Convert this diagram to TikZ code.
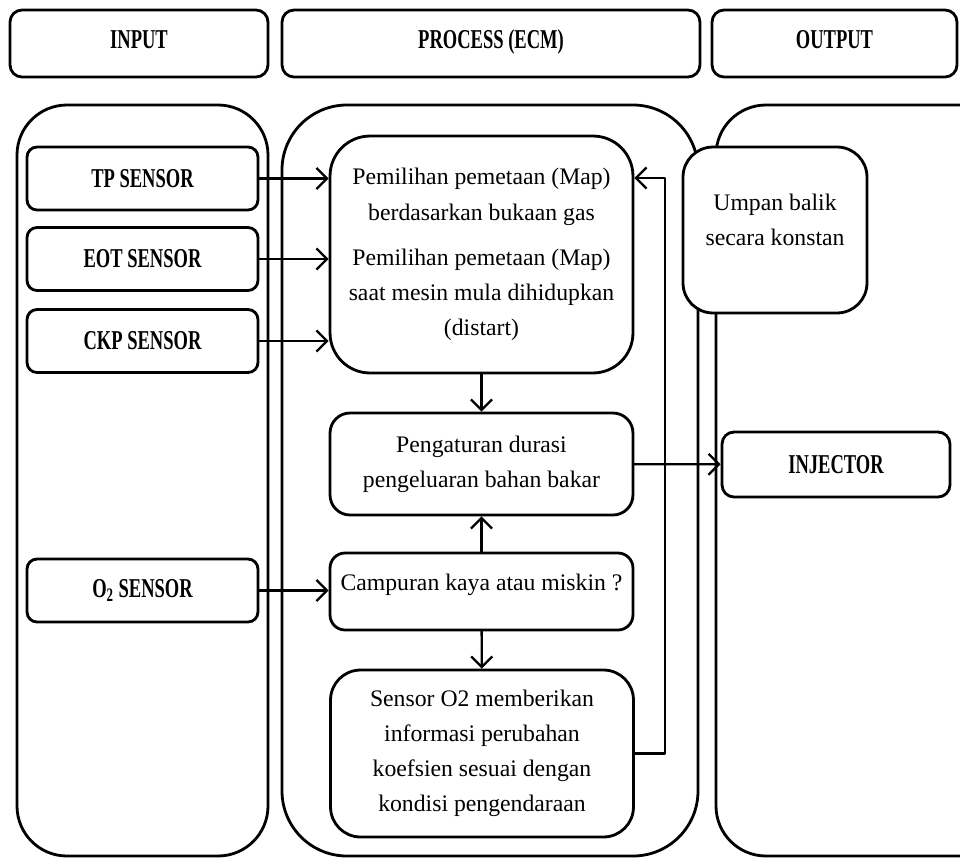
\documentclass[tikz,border=0pt]{standalone}
\usepackage{fontspec}
\setmainfont{Liberation Serif}
\newfontfamily\hdfont[FakeStretch=0.68]{Liberation Serif}
\usetikzlibrary{arrows.meta}
\begin{document}
\begin{tikzpicture}[line join=round, line cap=round, >={Straight Barb[length=6pt,width=12pt]}, x=0.02cm, y=-0.02cm]
	\tikzset{every node/.style={font=\fontsize{13.5}{20}\selectfont, align=center},
		hd/.style={draw, line width=1.6pt, rounded corners=0.24cm, minimum height=1.34cm, text height=0.75em, text depth=0.2em, font=\hdfont\bfseries\fontsize{15.5}{18}\selectfont},
		sbox/.style={draw, fill=white, line width=1.6pt, rounded corners=0.2cm, minimum width=4.62cm, minimum height=1.26cm, font=\hdfont\bfseries\fontsize{15.5}{18}\selectfont},
		pbox/.style={draw, fill=white, line width=1.6pt, minimum width=6.06cm},
		col/.style={line width=1.6pt},
		arr/.style={->, line width=1.3pt}}
	\useasboundingbox (0,0) rectangle (960,859);
	\clip (0,0) rectangle (960,859);
	\node[hd, minimum width=5.16cm] (inhead) at (139,43.5) {INPUT};
	\node[hd, minimum width=8.36cm] (prochead) at (491,43.5) {PROCESS (ECM)};
	\node[hd, minimum width=4.9cm] (outhead) at (834.5,43.5) {OUTPUT};
	\draw[col, rounded corners=1cm] (17,105) rectangle (268,856);
	\draw[col, rounded corners=1.3cm] (282,105) rectangle (698,856);
	\draw[col, rounded corners=1cm] (716,105) rectangle (1010,856);
	\foreach \n/\t/\y in {tp/TP SENSOR/178.5, eot/EOT SENSOR/259, ckp/CKP SENSOR/341, otwo/O\textsubscript{2} SENSOR/590.5}
	\node[sbox] (\n) at (142.5,\y) {\t};
	\node[pbox, rounded corners=0.8cm, minimum height=4.74cm] (map) at (481.5,254.5) {Pemilihan pemetaan (Map)\\berdasarkan bukaan gas\\[0.2cm]Pemilihan pemetaan (Map)\\saat mesin mula dihidupkan\\(distart)};
	\node[draw, fill=white, line width=1.6pt, rounded corners=0.6cm, minimum width=3.68cm, minimum height=3.32cm] (umpan) at (775,230) {};
	\node at ([yshift=0.21cm]umpan.center) {Umpan balik\\secara konstan};
	\node[pbox, rounded corners=0.4cm, minimum height=2.04cm] (peng) at (481.5,464) {Pengaturan durasi\\pengeluaran bahan bakar};
	\node[pbox, rounded corners=0.3cm, minimum height=1.54cm, text depth=10pt] (camp) at (481.5,591.5) {Campuran kaya atau miskin ?};
	\node[pbox, rounded corners=0.6cm, minimum height=3.34cm] (oinfo) at (482,753.5) {Sensor O2 memberikan\\informasi perubahan\\koefsien sesuai dengan\\kondisi pengendaraan};
	\node[sbox, minimum width=4.56cm, minimum height=1.3cm, rounded corners=0.24cm] (inj) at (836,464.5) {INJECTOR};
	\foreach \n in {tp,eot,ckp}
	\draw[arr] (\n.east) -- (\n.east -| map.west);
	\draw[arr] (otwo.east) -- (otwo.east -| camp.west);
	\draw[arr] (map) -- (peng);
	\draw[arr] (camp) -- (peng);
	\draw[arr] (camp) -- (oinfo);
	\coordinate (fb) at (665,178);
	\draw[arr] (oinfo.east) -| (fb) -- (fb -| map.east);
	\draw[arr] (peng) -- (inj);
\end{tikzpicture}
\end{document}
